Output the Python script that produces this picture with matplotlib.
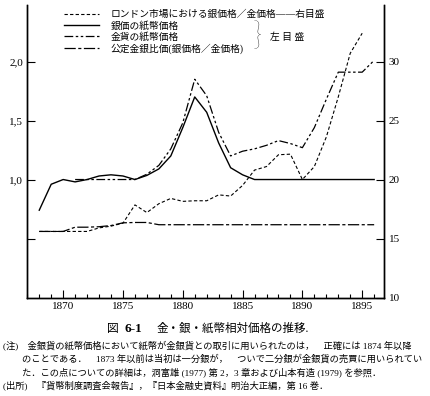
import matplotlib.pyplot as plt
from matplotlib.ticker import MultipleLocator, FixedLocator
from matplotlib.lines import Line2D

plt.rcParams['font.family'] = ['Liberation Serif', 'Noto Sans CJK JP']

years = list(range(1868, 1897))
silver_paper = [0.74, 0.96, 1.0, 0.98, 1.0, 1.03, 1.04, 1.03, 1.0, 1.035,
                1.09, 1.20, 1.44, 1.70, 1.57, 1.31, 1.10, 1.04, 1.0, 1.0,
                1.0, 1.0, 1.0, 1.0, 1.0, 1.0, 1.0, 1.0, 1.0]

gold_years = list(range(1871, 1897))
gold_paper = [1.0, 1.0, 1.0, 1.0, 1.0, 1.0, 1.045, 1.12, 1.26, 1.48,
              1.85, 1.71, 1.40, 1.20, 1.24, 1.26, 1.29, 1.33, 1.305, 1.27,
              1.44, 1.68, 1.91, 1.91, 1.91, 2.01]

official_ratio = [0.56, 0.56, 0.56, 0.596, 0.596, 0.60, 0.61, 0.633, 0.636, 0.636,
                  0.617, 0.617, 0.617, 0.617, 0.617, 0.617, 0.617, 0.617, 0.617, 0.617,
                  0.617, 0.617, 0.617, 0.617, 0.617, 0.617, 0.617, 0.617, 0.617]

london_years = list(range(1868, 1896))
london_ratio = [15.6, 15.6, 15.6, 15.6, 15.6, 15.9, 16.05, 16.3, 17.85, 17.2,
                17.95, 18.4, 18.15, 18.2, 18.2, 18.7, 18.6, 19.5, 20.8, 21.1,
                22.1, 22.15, 20.0, 21.1, 23.6, 27.0, 30.7, 32.4]

labels = ["ロンドン市場における銀価格／金価格――右目盛",
          "銀価の紙幣価格",
          "金貨の紙幣価格",
          "公定金銀比価(銀価格／金価格)"]

fig = plt.figure(figsize=(4.31, 3.96), dpi=100)
ax = fig.add_axes([0.0633, 0.2487, 0.8284, 0.7389])
ax2 = ax.twinx()

ls_london = (0, (3, 2))
ls_gold = (0, (7, 2, 2, 2, 2, 2))
ls_off = (0, (9, 2, 2.5, 2))

ax.plot(years, silver_paper, color='black', lw=1.0)
ax.plot(gold_years, gold_paper, color='black', lw=0.9, linestyle=ls_gold)
ax.plot(years, official_ratio, color='black', lw=0.9, linestyle=ls_off)
ax2.plot(london_years, london_ratio, color='black', lw=0.8, linestyle=ls_london)

ax.set_xlim(1867, 1896.85)
ax.set_ylim(0, 2.48)
ax2.set_ylim(10, 34.8)

for a in (ax, ax2):
    a.spines['top'].set_visible(False)
    for s in ('left', 'right', 'bottom'):
        a.spines[s].set_linewidth(1.0)

ax.xaxis.set_minor_locator(MultipleLocator(1))
ax.set_xticks([1870, 1875, 1880, 1885, 1890, 1895])
ax.yaxis.set_major_locator(FixedLocator([0.5, 1.0, 1.5, 2.0]))
ax.set_yticklabels(["", "1,0", "1,5", "2,0"])
ax2.set_yticks([10, 15, 20, 25, 30])
ax.tick_params(axis='both', which='major', direction='in', length=6, width=0.8, labelsize=8, pad=3)
ax.tick_params(axis='x', which='minor', direction='in', length=3, width=0.8)
ax2.tick_params(axis='y', direction='in', length=6, width=0.8, labelsize=8, pad=3)

handles = [Line2D([], [], color='black', lw=0.8, linestyle=ls_london),
           Line2D([], [], color='black', lw=1.0),
           Line2D([], [], color='black', lw=0.9, linestyle=ls_gold),
           Line2D([], [], color='black', lw=0.9, linestyle=ls_off)]
ax.legend(handles, labels, loc='upper left', bbox_to_anchor=(0.148, 0.975),
          bbox_transform=fig.transFigure, frameon=False, fontsize=7,
          handlelength=3.6, handletextpad=1.2, labelspacing=0.17,
          borderaxespad=0, borderpad=0)

fig.text(253 / 431, 1 - 37 / 396, "}", fontsize=23, va='center', ha='left',
         family='Lato', fontweight='light')
fig.text(270 / 431, 1 - 37 / 396, "左 目 盛", fontsize=7, va='center', ha='left')

cap_y = 1 - 329 / 396
fig.text(107 / 431, cap_y, "図", fontsize=8.5, ha='left', va='center')
fig.text(125 / 431, cap_y, "6-1", fontsize=9.5, ha='left', va='center', fontweight='bold')
fig.text(157 / 431, cap_y, "金・銀・紙幣相対価格の推移.", fontsize=8.3, ha='left', va='center')

notes = [(3, 346, "(注)　金銀貨の紙幣価格において紙幣が金銀貨との取引に用いられたのは，　正確には 1874 年以降"),
         (22, 359, "のことである．　1873 年以前は当初は一分銀が，　ついで二分銀が金銀貨の売買に用いられてい"),
         (22, 372, "た．この点についての詳細は，洞富雄 (1977) 第 2，3 章および山本有造 (1979) を参照．"),
         (3, 385, "(出所)　『貨幣制度調査会報告』，『日本金融史資料』明治大正編，第 16 巻．")]
for x, y, t in notes:
    fig.text(x / 431, 1 - y / 396, t, fontsize=6.7, ha='left', va='center')

fig.savefig('out.png', dpi=100)
